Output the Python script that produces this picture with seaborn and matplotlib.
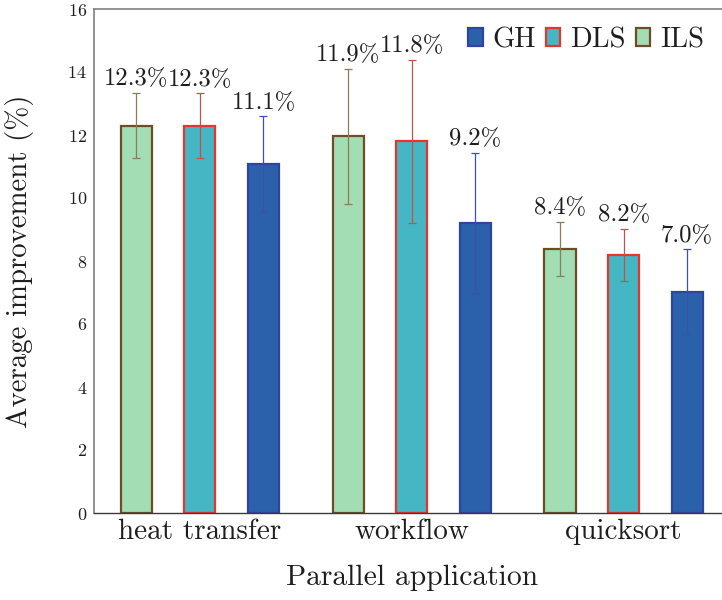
import matplotlib
matplotlib.use("Agg")
import matplotlib.pyplot as plt
import seaborn as sns
import pandas as pd

# Data: average improvement (%) per application and heuristic
applications = ["heat transfer", "workflow", "quicksort"]
methods = ["ILS", "DLS", "GH"]
ils_mean = [12.3, 11.96, 8.38]
dls_mean = [12.29, 11.8, 8.2]
gh_mean = [11.08, 9.21, 7.02]
ils_err = [1.03, 2.15, 0.87]
dls_err = [1.03, 2.58, 0.83]
gh_err = [1.51, 2.23, 1.35]
ils_text = ["12.3%", "11.9%", "8.4%"]
dls_text = ["12.3%", "11.8%", "8.2%"]
gh_text = ["11.1%", "9.2%", "7.0%"]

means = {"ILS": ils_mean, "DLS": dls_mean, "GH": gh_mean}
errs = {"ILS": ils_err, "DLS": dls_err, "GH": gh_err}
texts = {"ILS": ils_text, "DLS": dls_text, "GH": gh_text}

fills = {"ILS": "#a2ddb3", "DLS": "#45b6c4", "GH": "#2b61ab"}
edges = {"ILS": "#6e4c26", "DLS": "#e8352b", "GH": "#2f44a0"}
ecolors = {"ILS": "#8a7d5a", "DLS": "#c4524c", "GH": "#3a52a6"}

rows = []
for m in methods:
    for app, v in zip(applications, means[m]):
        rows.append({"application": app, "method": m, "value": v})
df = pd.DataFrame(rows)

sns.set_theme(style="white")
plt.rcParams["font.family"] = ["cmr10", "DejaVu Serif"]
plt.rcParams["axes.unicode_minus"] = False
plt.rcParams["axes.formatter.use_mathtext"] = True

fig = plt.figure(figsize=(7.22, 6.0), dpi=100)
# plot area runs slightly past the right edge of the canvas
ax = fig.add_axes([94 / 722, 1 - 513 / 600, (729.5 - 94) / 722, (513 - 9) / 600])

sns.barplot(data=df, x="application", y="value", hue="method",
            order=applications, hue_order=methods,
            palette=fills, width=0.9, gap=0.51, errorbar=None,
            saturation=1, ax=ax, legend=False, zorder=2)

text_color = "#1e1e1e"
for m, cont in zip(methods, ax.containers):
    for i, bar in enumerate(cont):
        bar.set_edgecolor(edges[m])
        bar.set_linewidth(1.6)
        cx = bar.get_x() + bar.get_width() / 2
        h = means[m][i]
        e = errs[m][i]
        ax.errorbar(cx, h, yerr=e, fmt="none", ecolor=ecolors[m],
                    elinewidth=0.9, capsize=3.2, capthick=0.9, zorder=3)
        ax.annotate(texts[m][i], (cx, h + e), xytext=(0, 5.5),
                    textcoords="offset points", ha="center", va="baseline",
                    fontsize=17.8, color=text_color)

ax.set_xlim(-0.5, 2.5)
ax.set_ylim(0, 16)
ax.set_yticks(range(0, 17, 2))
ax.tick_params(axis="both", length=0)
ax.tick_params(axis="y", labelsize=13, pad=5, labelcolor=text_color)
ax.tick_params(axis="x", labelsize=21, pad=4, labelcolor=text_color)
ax.set_xlabel("Parallel application", fontsize=21.3, labelpad=14, color=text_color)
ax.set_ylabel("Average improvement (%)", fontsize=20.8, labelpad=24, color=text_color)

for side in ["left", "top"]:
    ax.spines[side].set_color("#808080")
    ax.spines[side].set_linewidth(1.2)
ax.spines["bottom"].set_color("#3a3a3a")
ax.spines["bottom"].set_linewidth(1.0)
ax.spines["right"].set_visible(False)

legend_order = ["GH", "DLS", "ILS"]
handles = [ax.containers[methods.index(m)][0] for m in legend_order]
fig.legend(handles, legend_order, loc="center right",
           bbox_to_anchor=(704 / 722, 1 - 40 / 600), bbox_transform=fig.transFigure,
           ncol=3, frameon=False, fontsize=20.5, handlelength=0.5,
           handleheight=0.6, handletextpad=0.35, columnspacing=0.35,
           borderpad=0, borderaxespad=0, labelcolor=text_color)

fig.savefig("out.png", dpi=100, facecolor="white")
